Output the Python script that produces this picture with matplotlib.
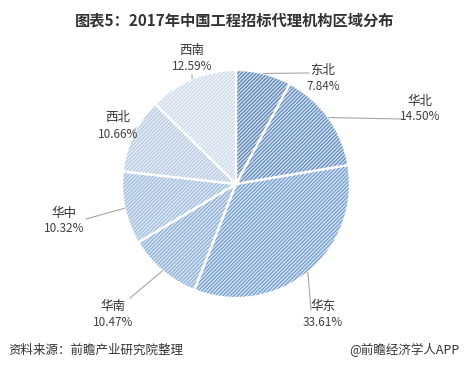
import matplotlib
matplotlib.use("Agg")
import matplotlib.pyplot as plt
import numpy as np

plt.rcParams['font.family'] = ['Noto Sans CJK SC', 'DejaVu Sans']
plt.rcParams['hatch.linewidth'] = 0.7

regions = ["东北", "华北", "华东", "华南", "华中", "西北", "西南"]
shares = [7.84, 14.50, 33.61, 10.47, 10.32, 10.66, 12.59]
title = "图表5：2017年中国工程招标代理机构区域分布"
source = "资料来源：前瞻产业研究院整理"
brand = "@前瞻经济学人APP"

fills = ["#c0d6f0", "#c3daf3", "#c8dff6", "#d0e3f4", "#d8e7f6", "#e3ecf6", "#eef3f9"]
hatch_cols = ["#56789f", "#5b7fab", "#6c90bd", "#85a4ca", "#97b3d4", "#adc2dc", "#c6d3e5"]

W, H = 469, 368
fig = plt.figure(figsize=(W / 100, H / 100), dpi=100)
ax = fig.add_axes([0, 0, 1, 1])

cx, cy, r = 236, H - 184, 114

wedges, _ = ax.pie(shares, startangle=90, counterclock=False, center=(cx, cy),
                   radius=r, frame=True, wedgeprops=dict(linewidth=0))
for w, fc, hc in zip(wedges, fills, hatch_cols):
    w.set_facecolor(fc)
    w.set_edgecolor(hc)
    w.set_hatch("/////////")
    w.set_linewidth(0)
ax.pie(shares, startangle=90, counterclock=False, center=(cx, cy), radius=r,
       frame=True, wedgeprops=dict(fill=False, edgecolor="white", linewidth=1.6))
ax.set_xlim(0, W)
ax.set_ylim(0, H)
ax.axis("off")

# label layout (image pixel coords: name centre, leader end)
label_pos = [(323, 70), (420, 101), (323, 306), (113, 306), (64, 213), (118, 118), (192, 50)]
leader_end = [(309, 73), (402, 119), (311, 310), (130, 298), (86, 219), (136, 128), (192, 75)]

for w, name, val, (lx, ly), (ex, ey) in zip(wedges, regions, shares, label_pos, leader_end):
    ang = np.deg2rad((w.theta1 + w.theta2) / 2)
    sx, sy = cx + r * np.cos(ang), cy + r * np.sin(ang)
    ax.plot([sx, ex], [sy, H - ey], color="#a6a6a6", lw=0.8)
    ax.text(lx, H - ly, name, ha="center", va="center", fontsize=9, color="#333333")
    ax.text(lx, H - ly - 16, f"{val:.2f}%", ha="center", va="center", fontsize=8.5,
            color="#404040")

ax.text(W / 2, H - 20, title, ha="center", va="center", fontsize=11,
        fontweight="bold", color="#333333")
ax.text(8, H - 350, source, ha="left", va="center", fontsize=9, color="#333333")
ax.text(460, H - 350, brand, ha="right", va="center", fontsize=9, color="#333333")

fig.savefig("out.png", dpi=100)
